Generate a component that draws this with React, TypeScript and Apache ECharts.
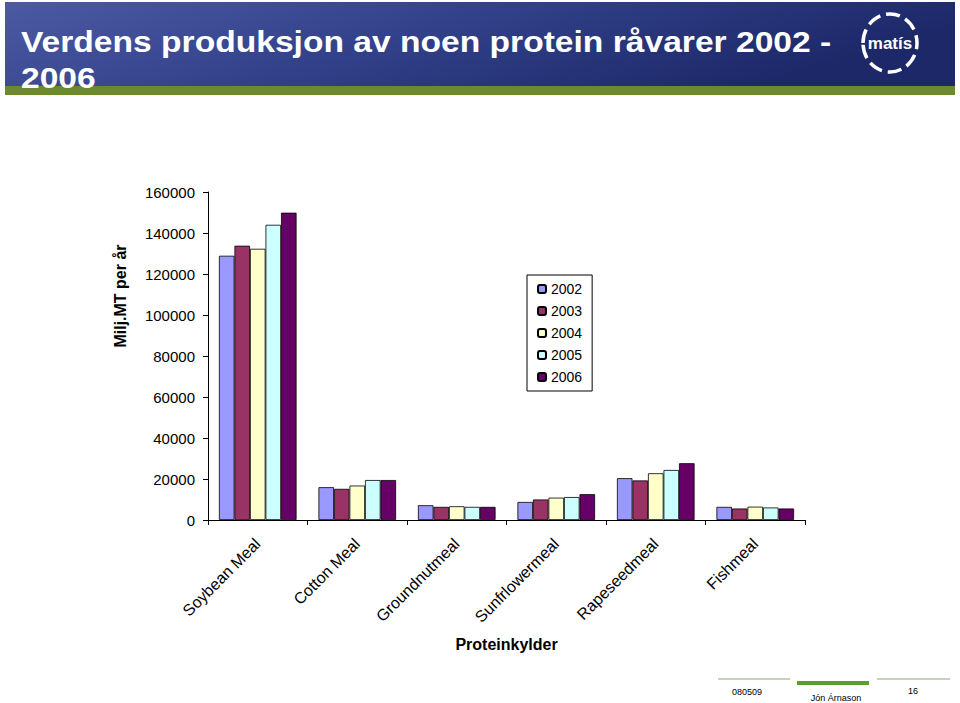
import React, { useEffect, useRef } from "react";
import * as echarts from "echarts";

const categories = ["Soybean Meal", "Cotton Meal", "Groundnutmeal", "Sunfrlowermeal", "Rapeseedmeal", "Fishmeal"];
const years = ["2002", "2003", "2004", "2005", "2006"];
const v2002 = [128900, 16000, 7200, 8800, 20400, 6400];
const v2003 = [133800, 15200, 6400, 10000, 19300, 5600];
const v2004 = [132300, 16800, 6700, 10900, 22800, 6500];
const v2005 = [144000, 19500, 6400, 11200, 24400, 6100];
const v2006 = [149900, 19500, 6400, 12600, 27700, 5600];
const seriesValues = [v2002, v2003, v2004, v2005, v2006];
const colors = ["#9999FF", "#993366", "#FFFFCC", "#CCFFFF", "#660066"];

const FONT = "'Liberation Sans', Arial, sans-serif";

export default function App() {
  const ref = useRef<HTMLDivElement>(null);
  useEffect(() => {
    document.body.style.margin = "0";
    const chart = echarts.init(ref.current!, null, { renderer: "svg" });
    chart.setOption({
      animation: false,
      backgroundColor: "#ffffff",
      textStyle: { fontFamily: FONT },
      grid: { left: 208, right: 155, top: 192, bottom: 183, containLabel: false },
      legend: {
        orient: "vertical",
        left: 527,
        top: 275,
        padding: [7, 10, 7, 10],
        itemWidth: 8,
        itemHeight: 8,
        itemGap: 8,
        borderColor: "#000",
        borderWidth: 1,
        backgroundColor: "#fff",
        textStyle: { fontSize: 14, color: "#000", fontFamily: FONT, lineHeight: 14, padding: [0, 0, 0, 0] },
        data: years,
      },
      xAxis: {
        type: "category",
        data: categories,
        name: "Proteinkylder",
        nameLocation: "middle",
        nameGap: 116,
        nameTextStyle: { fontSize: 16, fontWeight: "bold", color: "#000", fontFamily: FONT },
        axisLine: { lineStyle: { color: "#000", width: 1 } },
        axisTick: { show: true, interval: 0, length: 5, lineStyle: { color: "#000" } },
        axisLabel: { rotate: 45, interval: 0, fontSize: 16, color: "#000", margin: 21, fontFamily: FONT },
      },
      yAxis: {
        type: "value",
        min: 0,
        max: 160000,
        interval: 20000,
        axisLine: { show: true, lineStyle: { color: "#000", width: 1 } },
        axisTick: { show: true, length: 5, lineStyle: { color: "#000" } },
        splitLine: { show: false },
        axisLabel: {
          fontSize: 15,
          color: "#000",
          margin: 13,
          fontFamily: FONT,
          formatter: (v: number) => String(v),
        },
      },
      series: years.map((y, i) => ({
        name: y,
        type: "bar",
        data: seriesValues[i],
        barGap: "0%",
        barCategoryGap: "22%",
        itemStyle: { color: colors[i], borderColor: "#000", borderWidth: 0.8 },
      })),
      graphic: [
        {
          type: "rect",
          shape: { x: 5, y: 2, width: 950, height: 85 },
          style: {
            fill: new echarts.graphic.LinearGradient(0, 0, 1, 0.3, [
              { offset: 0, color: "#4b5aa3" },
              { offset: 0.45, color: "#34438c" },
              { offset: 1, color: "#1c2868" },
            ]),
          },
          silent: true,
        },
        {
          type: "rect",
          shape: { x: 5, y: 86, width: 950, height: 9 },
          style: { fill: "#6a8a2b" },
          silent: true,
        },
        {
          type: "text",
          x: 21,
          y: 42,
          scaleX: 1.12,
          style: {
            text: "Verdens produksjon av noen protein råvarer 2002 -",
            fill: "#ffffff",
            font: "bold 30px " + FONT,
            verticalAlign: "middle",
          },
        },
        {
          type: "text",
          x: 21,
          y: 78,
          scaleX: 1.12,
          style: { text: "2006", fill: "#ffffff", font: "bold 30px " + FONT, verticalAlign: "middle" },
        },
        {
          type: "ellipse",
          shape: { cx: 890, cy: 43, rx: 27, ry: 29 },
          style: { fill: "none", stroke: "#ffffff", lineWidth: 3.5, lineDash: [14, 6] },
        },
        {
          type: "text",
          x: 890,
          y: 43,
          style: {
            text: "matís",
            fill: "#ffffff",
            font: "bold 17px " + FONT,
            align: "center",
            verticalAlign: "middle",
          },
        },
        {
          type: "text",
          x: 120,
          y: 296,
          rotation: Math.PI / 2,
          style: {
            text: "Milj.MT per år",
            fill: "#000",
            font: "bold 16px " + FONT,
            align: "center",
            verticalAlign: "middle",
          },
        },
        {
          type: "line",
          shape: { x1: 718, y1: 679, x2: 790, y2: 679 },
          style: { stroke: "#b5c4a0", lineWidth: 1.5 },
        },
        {
          type: "rect",
          shape: { x: 797, y: 681, width: 72, height: 4 },
          style: { fill: "#5aa02c" },
        },
        {
          type: "line",
          shape: { x1: 877, y1: 679, x2: 950, y2: 679 },
          style: { stroke: "#b5c4a0", lineWidth: 1.5 },
        },
        {
          type: "text",
          x: 747,
          y: 692,
          style: { text: "080509", fill: "#000", font: "9px " + FONT, align: "center", verticalAlign: "middle" },
        },
        {
          type: "text",
          x: 836,
          y: 698,
          style: { text: "Jón Árnason", fill: "#000", font: "9px " + FONT, align: "center", verticalAlign: "middle" },
        },
        {
          type: "text",
          x: 913,
          y: 691,
          style: { text: "16", fill: "#000", font: "9px " + FONT, align: "center", verticalAlign: "middle" },
        },
      ],
    });
    return () => chart.dispose();
  }, []);
  return <div ref={ref} style={{ width: 960, height: 703 }} />;
}
